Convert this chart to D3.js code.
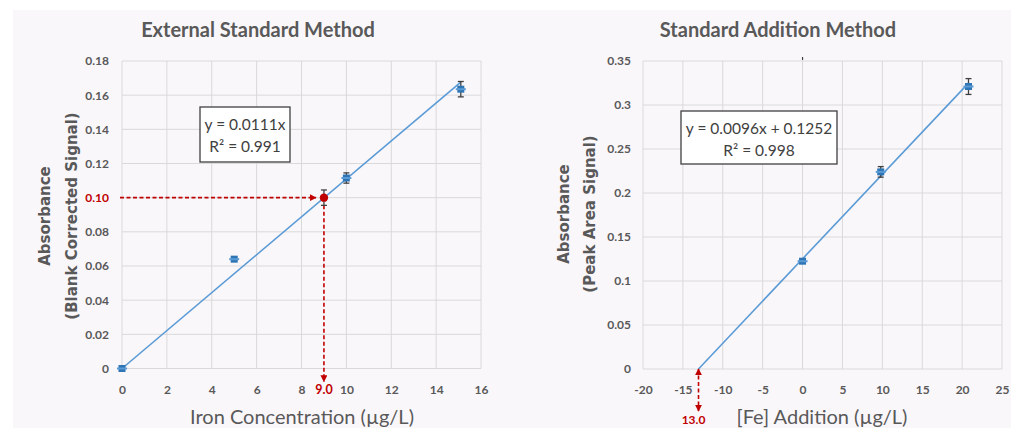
<!DOCTYPE html>
<html>
<head>
<meta charset="utf-8">
<script src="https://cdn.jsdelivr.net/npm/d3@7"></script>
<style>
  html, body { margin: 0; padding: 0; background: #ffffff; }
  svg { display: block; font-family: Lato, "Open Sans", sans-serif; }
</style>
</head>
<body>
<svg id="chart" width="1011" height="428"></svg>
<script>
// ---- External standard calibration ----
const extTitle = "External Standard Method";
const extXLabel = "Iron Concentration (µg/L)";
const extYLabel = ["Absorbance", "(Blank Corrected Signal)"];
const extXTicks = [0, 2, 4, 6, 8, 10, 12, 14, 16];
const extYTicks = [0, 0.02, 0.04, 0.06, 0.08, 0.10, 0.12, 0.14, 0.16, 0.18];
const extConc = [0, 5, 10, 15.1];
const extAbs = [0, 0.064, 0.1115, 0.1635];
const extErr = [0.0005, 0.001, 0.003, 0.0045];
const extSlope = 0.0111;
const extFitRange = [0, 15.1];
const extEquation = ["y = 0.0111x", "R² = 0.991"];
// unknown sample
const sampleAbs = 0.100;
const sampleConc = 9.0;
const sampleErr = 0.0045;

// ---- Standard addition ----
const addTitle = "Standard Addition Method";
const addXLabel = "[Fe] Addition (µg/L)";
const addYLabel = ["Absorbance", "(Peak Area Signal)"];
const addXTicks = [-20, -15, -10, -5, 0, 5, 10, 15, 20, 25];
const addYTicks = [0, 0.05, 0.1, 0.15, 0.2, 0.25, 0.3, 0.35];
const addConc = [0, 9.8, 20.8];
const addAbs = [0.1225, 0.224, 0.321];
const addErr = [0.001, 0.006, 0.009];
const addSlope = 0.0096;
const addIntercept = 0.1252;
const addFitEnd = 20.8;
const addEquation = ["y = 0.0096x + 0.1252", "R² = 0.998"];

const GRID = "#d9d9d9", TEXT = "#595959", RED = "#c00000";
const LINE = "#5b9bd5", MARK = "#2e75b6", ERR = "#404040";
const BODY_FONT = "Lato, 'Open Sans', sans-serif";
const AXIS_TITLE_FONT = "'DejaVu Sans', Verdana, sans-serif";

const svg = d3.select("#chart");

// faint page background behind both charts
svg.append("rect").attr("x", 13).attr("y", 10)
  .attr("width", 1011 - 13).attr("height", 428 - 10).attr("fill", "#faf7fb");

const defs = svg.append("defs");
defs.append("marker").attr("id", "arrowRed")
  .attr("viewBox", "0 0 10 10").attr("refX", 9).attr("refY", 5)
  .attr("markerWidth", 7).attr("markerHeight", 7).attr("markerUnits", "userSpaceOnUse")
  .attr("orient", "auto-start-reverse")
  .append("path").attr("d", "M0,0 L10,5 L0,10 Z").attr("fill", RED);

function panel(cfg) {
  const g = svg.append("g");
  const x = d3.scaleLinear().domain(cfg.xDomain).range(cfg.xRange);
  const y = d3.scaleLinear().domain(cfg.yDomain).range(cfg.yRange);

  // grid
  g.append("g").selectAll("line").data(cfg.xTicks).join("line")
    .attr("x1", d => x(d)).attr("x2", d => x(d))
    .attr("y1", y.range()[0]).attr("y2", y.range()[1])
    .attr("stroke", GRID).attr("stroke-width", 1);
  g.append("g").selectAll("line").data(cfg.yTicks).join("line")
    .attr("y1", d => y(d)).attr("y2", d => y(d))
    .attr("x1", x.range()[0]).attr("x2", x.range()[1])
    .attr("stroke", GRID).attr("stroke-width", 1);

  // axes (labels only, spreadsheet style)
  const xAxis = d3.axisBottom(x).tickValues(cfg.xTicks).tickSize(0).tickPadding(0)
    .tickFormat(d => String(d));
  const xa = g.append("g").attr("transform", `translate(0,${cfg.xLabelY})`).call(xAxis);
  xa.select(".domain").remove();
  xa.selectAll("text").attr("fill", TEXT).attr("font-size", 12).attr("font-weight", "bold")
    .attr("dy", "0.32em").style("font-family", BODY_FONT);

  const yAxis = d3.axisLeft(y).tickValues(cfg.yTicks).tickSize(0).tickPadding(0)
    .tickFormat(cfg.yFormat);
  const ya = g.append("g").attr("transform", `translate(${cfg.yLabelX},0)`).call(yAxis);
  ya.select(".domain").remove();
  ya.selectAll("text").attr("fill", d => (cfg.yRed !== undefined && Math.abs(d - cfg.yRed) < 1e-9) ? RED : TEXT)
    .attr("font-size", 12).attr("font-weight", "bold").style("font-family", BODY_FONT);

  // titles
  g.append("text").attr("x", cfg.titleX).attr("y", 37).attr("text-anchor", "middle")
    .style("font-family", BODY_FONT)
    .attr("fill", TEXT).attr("font-size", 20).attr("font-weight", "bold").text(cfg.title);
  g.append("text").attr("x", cfg.xTitleX).attr("y", 424).attr("text-anchor", "middle")
    .style("font-family", BODY_FONT)
    .attr("fill", TEXT).attr("font-size", 20).text(cfg.xTitle);
  cfg.yTitle.forEach((t, i) => {
    g.append("text")
      .attr("transform", `translate(${cfg.yTitleX[i]},${cfg.yTitleCY}) rotate(-90)`)
      .attr("text-anchor", "middle").attr("dy", "0.35em")
      .style("font-family", AXIS_TITLE_FONT).style("font-weight", "bold")
      .attr("fill", TEXT).attr("font-size", 15).text(t);
  });

  return { g, x, y };
}

function errorBars(g, x, y, xs, ys, es, color) {
  const cap = 3;
  xs.forEach((cx, i) => {
    const px = x(cx), top = y(ys[i] + es[i]), bot = y(ys[i] - es[i]);
    g.append("line").attr("x1", px).attr("x2", px).attr("y1", top).attr("y2", bot)
      .attr("stroke", color).attr("stroke-width", 1.3);
    [top, bot].forEach(v => g.append("line").attr("x1", px - cap).attr("x2", px + cap)
      .attr("y1", v).attr("y2", v).attr("stroke", color).attr("stroke-width", 1.3));
  });
}

function markers(g, x, y, xs, ys, color) {
  g.append("g").selectAll("rect").data(xs).join("rect")
    .attr("x", (d) => x(d) - 3.5).attr("y", (d, i) => y(ys[i]) - 3.5)
    .attr("width", 7).attr("height", 7).attr("fill", color);
  // short horizontal bars giving the "+" look
  g.append("g").selectAll("line").data(xs).join("line")
    .attr("x1", d => x(d) - 5).attr("x2", d => x(d) + 5)
    .attr("y1", (d, i) => y(ys[i])).attr("y2", (d, i) => y(ys[i]))
    .attr("stroke", LINE).attr("stroke-width", 2);
}

function equationBox(g, cx, top, w, h, lines) {
  g.append("rect").attr("x", cx - w / 2).attr("y", top).attr("width", w).attr("height", h)
    .attr("fill", "#ffffff").attr("stroke", "#404040").attr("stroke-width", 1.3);
  lines.forEach((t, i) => g.append("text").attr("x", cx).attr("y", top + 23 + i * 22)
    .style("font-family", BODY_FONT)
    .attr("text-anchor", "middle").attr("fill", "#404040").attr("font-size", 15.5).text(t));
}

// ===== Left chart =====
{
  const { g, x, y } = panel({
    xDomain: [0, 16], xRange: [122, 481],
    yDomain: [0, 0.18], yRange: [368.5, 61],
    xTicks: extXTicks, yTicks: extYTicks,
    yFormat: d => d === 0 ? "0" : d3.format(".2f")(d),
    yRed: sampleAbs,
    xLabelY: 390, yLabelX: 109,
    title: extTitle, titleX: 258,
    xTitle: extXLabel, xTitleX: 302,
    yTitle: extYLabel, yTitleX: [45, 72], yTitleCY: 216
  });

  // fitted calibration line
  g.append("line")
    .attr("x1", x(extFitRange[0])).attr("y1", y(extSlope * extFitRange[0]))
    .attr("x2", x(extFitRange[1])).attr("y2", y(extSlope * extFitRange[1]))
    .attr("stroke", LINE).attr("stroke-width", 1.6);

  errorBars(g, x, y, extConc, extAbs, extErr, ERR);
  markers(g, x, y, extConc, extAbs, MARK);

  // sample: horizontal read-across and vertical drop to the x axis
  g.append("line").attr("x1", x(0) - 2).attr("x2", x(sampleConc) - 8)
    .attr("y1", y(sampleAbs)).attr("y2", y(sampleAbs))
    .attr("stroke", RED).attr("stroke-width", 1.6).attr("stroke-dasharray", "4,2.5")
    .attr("marker-end", "url(#arrowRed)");
  g.append("line").attr("x1", x(sampleConc)).attr("x2", x(sampleConc))
    .attr("y1", y(sampleAbs - sampleErr)).attr("y2", y(0) + 13)
    .attr("stroke", RED).attr("stroke-width", 1.6).attr("stroke-dasharray", "4,2.5")
    .attr("marker-end", "url(#arrowRed)");
  errorBars(g, x, y, [sampleConc], [sampleAbs], [sampleErr], ERR);
  g.append("circle").attr("cx", x(sampleConc)).attr("cy", y(sampleAbs)).attr("r", 4.2).attr("fill", RED);
  g.append("text").attr("x", x(sampleConc)).attr("y", 390).attr("dy", "0.32em")
    .style("font-family", BODY_FONT)
    .attr("text-anchor", "middle").attr("fill", RED).attr("font-size", 12.5)
    .attr("font-weight", "bold").text(d3.format(".1f")(sampleConc));

  equationBox(g, 245, 107, 90, 55, extEquation);
}

// ===== Right chart =====
{
  const { g, x, y } = panel({
    xDomain: [-20, 25], xRange: [643, 1002],
    yDomain: [0, 0.35], yRange: [369, 61],
    xTicks: addXTicks, yTicks: addYTicks,
    yFormat: d => d === 0 ? "0" : String(+d.toFixed(2)),
    xLabelY: 390, yLabelX: 631,
    title: addTitle, titleX: 778,
    xTitle: addXLabel, xTitleX: 822,
    yTitle: addYLabel, yTitleX: [564, 590], yTitleCY: 214
  });

  const xInt = -addIntercept / addSlope;

  // small stray tick above the plot at x = 0
  g.append("line").attr("x1", x(0)).attr("x2", x(0)).attr("y1", 57).attr("y2", 60)
    .attr("stroke", "#404040").attr("stroke-width", 1.2);

  g.append("line")
    .attr("x1", x(xInt)).attr("y1", y(0))
    .attr("x2", x(addFitEnd)).attr("y2", y(addSlope * addFitEnd + addIntercept))
    .attr("stroke", LINE).attr("stroke-width", 1.6);

  errorBars(g, x, y, addConc, addAbs, addErr, ERR);
  markers(g, x, y, addConc, addAbs, MARK);

  // extrapolated intercept arrow
  g.append("line").attr("x1", x(xInt)).attr("x2", x(xInt))
    .attr("y1", y(0)).attr("y2", y(0) + 42)
    .attr("stroke", RED).attr("stroke-width", 1.6).attr("stroke-dasharray", "4,2.5")
    .attr("marker-start", "url(#arrowRed)").attr("marker-end", "url(#arrowRed)");
  g.append("text").attr("x", x(xInt) - 5).attr("y", 424)
    .style("font-family", BODY_FONT)
    .attr("text-anchor", "middle").attr("fill", RED).attr("font-size", 12)
    .attr("font-weight", "bold").text(d3.format(".1f")(-xInt));

  equationBox(g, 759, 111, 156, 53, addEquation);
}
</script>
</body>
</html>
